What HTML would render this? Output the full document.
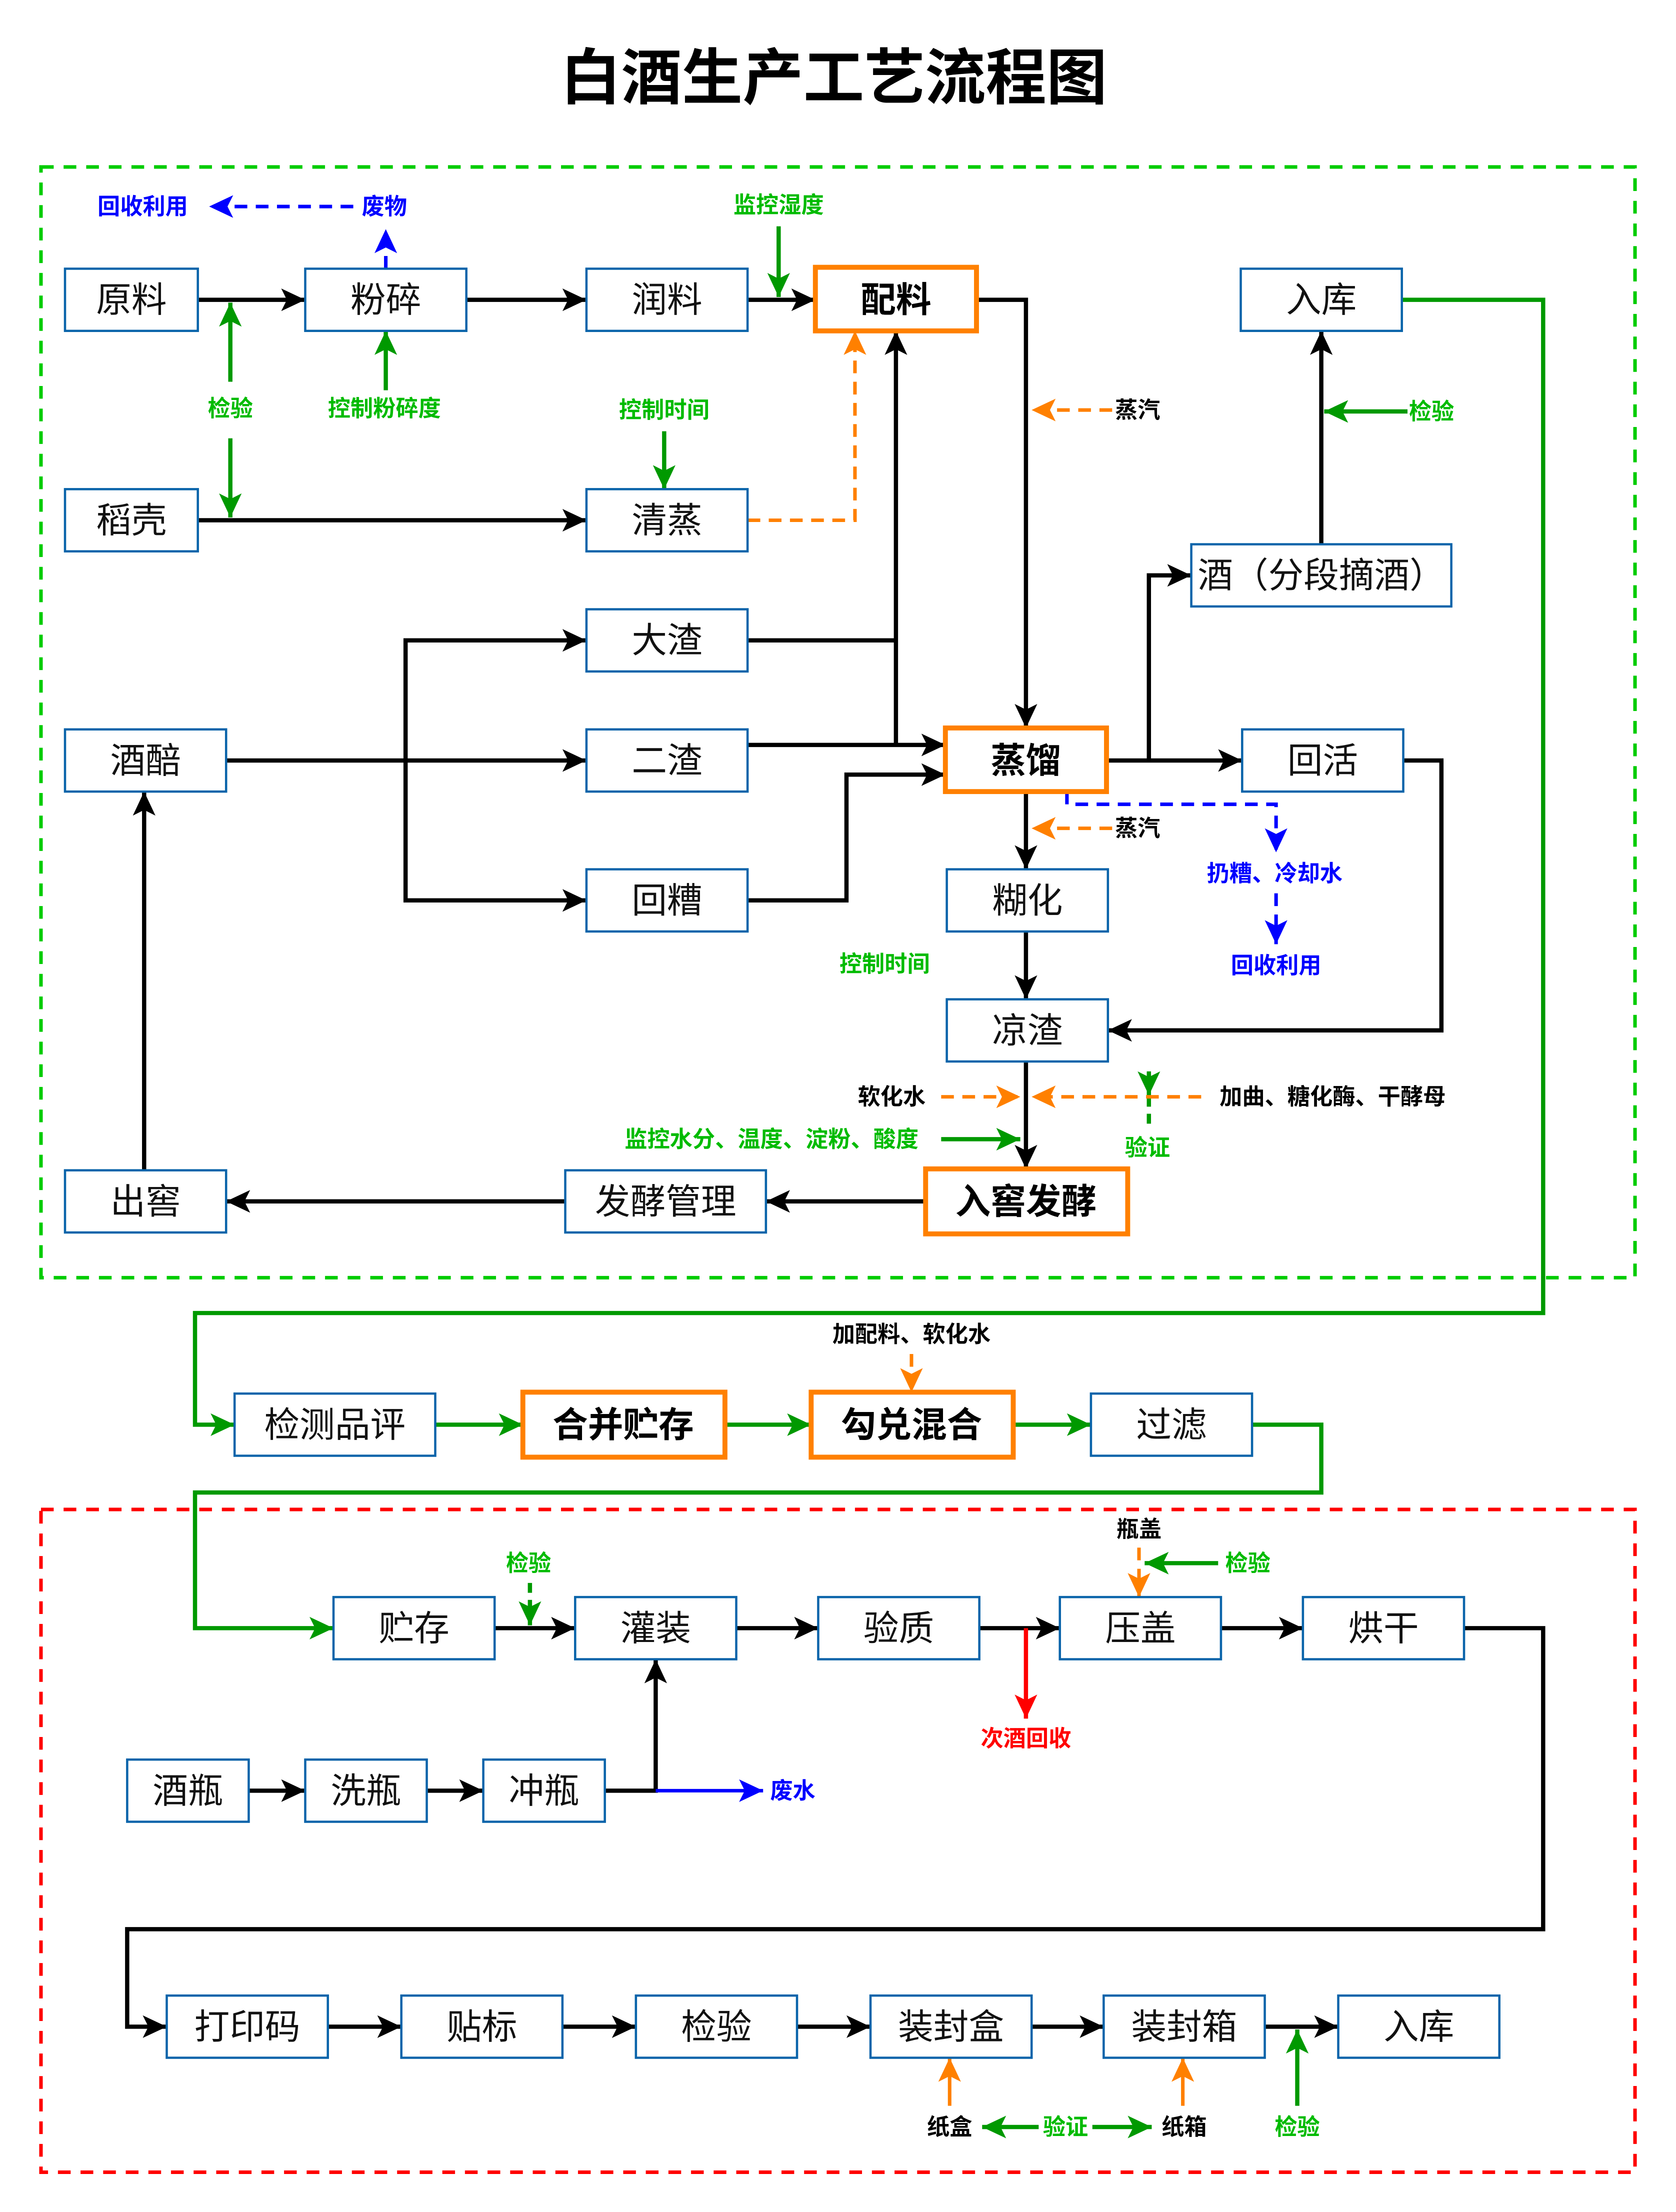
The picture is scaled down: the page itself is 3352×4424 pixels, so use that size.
<!DOCTYPE html>
<html><head><meta charset="utf-8"><style>
html,body{margin:0;padding:0;background:#fff}
svg{display:block}
text{font-family:"Liberation Sans","Noto Sans CJK SC",sans-serif}
.b{font-size:25px;fill:#111;text-anchor:middle;dominant-baseline:central}
.bb{font-size:25px;font-weight:bold;fill:#000;text-anchor:middle;dominant-baseline:central}
.s{font-size:16px;font-weight:bold;text-anchor:middle;dominant-baseline:central}
.box{fill:#fff;stroke:#0a64aa;stroke-width:1.6}
.obox{fill:#fff;stroke:#ff8000;stroke-width:3.5}
.k{fill:none;stroke:#000;stroke-width:3}
.g{fill:none;stroke:#009900;stroke-width:3}
.o{fill:none;stroke:#ff8000;stroke-width:2.5;stroke-dasharray:9,6}
.u{fill:none;stroke:#0000ff;stroke-width:2.5;stroke-dasharray:9,6}
</style></head><body>
<svg width="3352" height="4424" viewBox="0 0 1186 1565" xmlns="http://www.w3.org/2000/svg">
<defs>
<marker id="ak" markerUnits="userSpaceOnUse" markerWidth="18" markerHeight="16" refX="17" refY="8" orient="auto"><path d="M0,0 L17,8 L0,16 L4,8 z" fill="#000"/></marker>
<marker id="ag" markerUnits="userSpaceOnUse" markerWidth="18" markerHeight="16" refX="17" refY="8" orient="auto"><path d="M0,0 L17,8 L0,16 L4,8 z" fill="#009900"/></marker>
<marker id="ao" markerUnits="userSpaceOnUse" markerWidth="18" markerHeight="16" refX="17" refY="8" orient="auto"><path d="M0,0 L17,8 L0,16 L4,8 z" fill="#ff8000"/></marker>
<marker id="au" markerUnits="userSpaceOnUse" markerWidth="18" markerHeight="16" refX="17" refY="8" orient="auto"><path d="M0,0 L17,8 L0,16 L4,8 z" fill="#0000ff"/></marker>
<marker id="ar" markerUnits="userSpaceOnUse" markerWidth="18" markerHeight="16" refX="17" refY="8" orient="auto"><path d="M0,0 L17,8 L0,16 L4,8 z" fill="#ff0000"/></marker>
</defs>
<text x="590" y="55" font-size="43" font-weight="bold" text-anchor="middle" dominant-baseline="central" fill="#000">白酒生产工艺流程图</text>
<rect x="29" y="118" width="1128" height="786" fill="none" stroke="#00cc00" stroke-width="2.5" stroke-dasharray="9,7"/>
<rect x="29" y="1068" width="1128" height="469" fill="none" stroke="#ff0000" stroke-width="2.5" stroke-dasharray="9,7"/>

<path class="k" marker-end="url(#ak)" d="M140,212 H216"/>
<path class="k" marker-end="url(#ak)" d="M330,212 H415"/>
<path class="k" marker-end="url(#ak)" d="M529,212 H577"/>
<path class="k" marker-end="url(#ak)" d="M691,212 H726 V515"/>
<path class="k" marker-end="url(#ak)" d="M140,368 H415"/>
<path class="k" d="M529,453 H634"/>
<path class="k" marker-end="url(#ak)" d="M634,527 V234"/>
<path class="k" marker-end="url(#ak)" d="M529,527 H669"/>
<path class="k" marker-end="url(#ak)" d="M529,637 H599 V548 H669"/>
<path class="k" marker-end="url(#ak)" d="M160,538 H415"/>
<path class="k" marker-end="url(#ak)" d="M287,538 V453 H415"/>
<path class="k" marker-end="url(#ak)" d="M287,538 V637 H415"/>
<path class="k" marker-end="url(#ak)" d="M783,538 H879"/>
<path class="k" marker-end="url(#ak)" d="M813,538 V407 H843"/>
<path class="k" marker-end="url(#ak)" d="M935,385 V234"/>
<path class="k" marker-end="url(#ak)" d="M726,560 V615"/>
<path class="k" marker-end="url(#ak)" d="M726,659 V707"/>
<path class="k" marker-end="url(#ak)" d="M993,538 H1020 V729 H784"/>
<path class="k" marker-end="url(#ak)" d="M726,751 V827"/>
<path class="k" marker-end="url(#ak)" d="M655,850 H542"/>
<path class="k" marker-end="url(#ak)" d="M400,850 H160"/>
<path class="k" marker-end="url(#ak)" d="M102,828 V560"/>
<path class="k" marker-end="url(#ak)" d="M350,1152 H407"/>
<path class="k" marker-end="url(#ak)" d="M521,1152 H579"/>
<path class="k" marker-end="url(#ak)" d="M693,1152 H750"/>
<path class="k" marker-end="url(#ak)" d="M864,1152 H922"/>
<path class="k" marker-end="url(#ak)" d="M1036,1152 H1092 V1365 H90 V1434 H118"/>
<path class="k" marker-end="url(#ak)" d="M176,1267 H216"/>
<path class="k" marker-end="url(#ak)" d="M302,1267 H342"/>
<path class="k" marker-end="url(#ak)" d="M428,1267 H464 V1174"/>
<path class="k" marker-end="url(#ak)" d="M232,1434 H284"/>
<path class="k" marker-end="url(#ak)" d="M398,1434 H450"/>
<path class="k" marker-end="url(#ak)" d="M564,1434 H616"/>
<path class="k" marker-end="url(#ak)" d="M730,1434 H781"/>
<path class="k" marker-end="url(#ak)" d="M895,1434 H947"/>
<path fill="none" stroke="#ff0000" stroke-width="3" marker-end="url(#ar)" d="M726,1152 V1216"/>
<path fill="none" stroke="#0000ff" stroke-width="2.5" marker-end="url(#au)" d="M464,1267 H540"/>

<path class="g" marker-end="url(#ag)" d="M163,270 V214"/>
<path class="g" marker-end="url(#ag)" d="M163,310 V366"/>
<path class="g" marker-end="url(#ag)" d="M273,276 V234"/>
<path class="g" marker-end="url(#ag)" d="M551,160 V210"/>
<path class="g" marker-end="url(#ag)" d="M470,305 V346"/>
<path class="g" marker-end="url(#ag)" d="M996,291 H937"/>
<path class="g" marker-end="url(#ag)" d="M666,806 H722"/>
<path class="g" stroke-width="2" marker-end="url(#ag)" d="M992,212 H1092 V929 H138 V1008 H166"/>
<path class="g" marker-end="url(#ag)" d="M308,1008 H370"/>
<path class="g" marker-end="url(#ag)" d="M513,1008 H574"/>
<path class="g" marker-end="url(#ag)" d="M717,1008 H772"/>
<path class="g" stroke-width="2" marker-end="url(#ag)" d="M886,1008 H935 V1056 H138 V1152 H236"/>
<path class="g" marker-end="url(#ag)" d="M862,1106 H810"/>
<path class="g" marker-end="url(#ag)" d="M918,1490 V1436"/>
<path class="g" marker-end="url(#ag)" d="M735,1505 H695"/>
<path class="g" marker-end="url(#ag)" d="M773,1505 H815"/>
<path class="g" stroke-dasharray="7,5" marker-end="url(#ag)" d="M375,1120 V1150"/>
<path class="g" stroke-dasharray="7,5" d="M813,776 V800"/>
<path class="g" marker-end="url(#ag)" d="M813,758 V775"/>

<path class="o" marker-end="url(#ao)" d="M529,368 H605 V234"/>
<path class="o" marker-end="url(#ao)" d="M787,290 H730"/>
<path class="o" marker-end="url(#ao)" d="M787,586 H730"/>
<path class="o" marker-end="url(#ao)" d="M666,776 H722"/>
<path class="o" marker-end="url(#ao)" d="M850,776 H730"/>
<path class="o" marker-end="url(#ao)" d="M645,958 V985"/>
<path class="o" marker-end="url(#ao)" d="M806,1095 V1130"/>
<path fill="none" stroke="#ff8000" stroke-width="2.5" marker-end="url(#ao)" d="M672,1490 V1456"/>
<path fill="none" stroke="#ff8000" stroke-width="2.5" marker-end="url(#ao)" d="M837,1490 V1456"/>

<path class="u" marker-end="url(#au)" d="M250,146 H148"/>
<path class="u" marker-end="url(#au)" d="M273,190 V162"/>
<path class="u" marker-end="url(#au)" d="M755,560 V569 H903 V603"/>
<path class="u" marker-end="url(#au)" d="M903,632 V668"/>

<rect class="box" x="46" y="190" width="94" height="44"/><text class="b" x="93" y="212">原料</text>
<rect class="box" x="216" y="190" width="114" height="44"/><text class="b" x="273" y="212">粉碎</text>
<rect class="box" x="415" y="190" width="114" height="44"/><text class="b" x="472" y="212">润料</text>
<rect class="obox" x="577" y="189" width="114" height="45"/><text class="bb" x="634" y="212">配料</text>
<rect class="box" x="878" y="190" width="114" height="44"/><text class="b" x="935" y="212">入库</text>
<rect class="box" x="46" y="346" width="94" height="44"/><text class="b" x="93" y="368">稻壳</text>
<rect class="box" x="415" y="346" width="114" height="44"/><text class="b" x="472" y="368">清蒸</text>
<rect class="box" x="843" y="385" width="184" height="44"/><text class="b" x="935" y="407">酒（分段摘酒）</text>
<rect class="box" x="415" y="431" width="114" height="44"/><text class="b" x="472" y="453">大渣</text>
<rect class="box" x="46" y="516" width="114" height="44"/><text class="b" x="103" y="538">酒醅</text>
<rect class="box" x="415" y="516" width="114" height="44"/><text class="b" x="472" y="538">二渣</text>
<rect class="obox" x="669" y="515" width="114" height="45"/><text class="bb" x="726" y="538">蒸馏</text>
<rect class="box" x="879" y="516" width="114" height="44"/><text class="b" x="936" y="538">回活</text>
<rect class="box" x="415" y="615" width="114" height="44"/><text class="b" x="472" y="637">回糟</text>
<rect class="box" x="670" y="615" width="114" height="44"/><text class="b" x="727" y="637">糊化</text>
<rect class="box" x="670" y="707" width="114" height="44"/><text class="b" x="727" y="729">凉渣</text>
<rect class="box" x="46" y="828" width="114" height="44"/><text class="b" x="103" y="850">出窖</text>
<rect class="box" x="400" y="828" width="142" height="44"/><text class="b" x="471" y="850">发酵管理</text>
<rect class="obox" x="655" y="827" width="143" height="46"/><text class="bb" x="726" y="850">入窖发酵</text>
<rect class="box" x="166" y="986" width="142" height="44"/><text class="b" x="237" y="1008">检测品评</text>
<rect class="obox" x="370" y="985" width="143" height="46"/><text class="bb" x="441" y="1008">合并贮存</text>
<rect class="obox" x="574" y="985" width="143" height="46"/><text class="bb" x="645" y="1008">勾兑混合</text>
<rect class="box" x="772" y="986" width="114" height="44"/><text class="b" x="829" y="1008">过滤</text>
<rect class="box" x="236" y="1130" width="114" height="44"/><text class="b" x="293" y="1152">贮存</text>
<rect class="box" x="407" y="1130" width="114" height="44"/><text class="b" x="464" y="1152">灌装</text>
<rect class="box" x="579" y="1130" width="114" height="44"/><text class="b" x="636" y="1152">验质</text>
<rect class="box" x="750" y="1130" width="114" height="44"/><text class="b" x="807" y="1152">压盖</text>
<rect class="box" x="922" y="1130" width="114" height="44"/><text class="b" x="979" y="1152">烘干</text>
<rect class="box" x="90" y="1245" width="86" height="44"/><text class="b" x="133" y="1267">酒瓶</text>
<rect class="box" x="216" y="1245" width="86" height="44"/><text class="b" x="259" y="1267">洗瓶</text>
<rect class="box" x="342" y="1245" width="86" height="44"/><text class="b" x="385" y="1267">冲瓶</text>
<rect class="box" x="118" y="1412" width="114" height="44"/><text class="b" x="175" y="1434">打印码</text>
<rect class="box" x="284" y="1412" width="114" height="44"/><text class="b" x="341" y="1434">贴标</text>
<rect class="box" x="450" y="1412" width="114" height="44"/><text class="b" x="507" y="1434">检验</text>
<rect class="box" x="616" y="1412" width="114" height="44"/><text class="b" x="673" y="1434">装封盒</text>
<rect class="box" x="781" y="1412" width="114" height="44"/><text class="b" x="838" y="1434">装封箱</text>
<rect class="box" x="947" y="1412" width="114" height="44"/><text class="b" x="1004" y="1434">入库</text>

<text class="s" fill="#0000ff" x="101" y="146">回收利用</text>
<text class="s" fill="#0000ff" x="272" y="146">废物</text>
<text class="s" fill="#0000ff" x="902" y="618">扔糟、冷却水</text>
<text class="s" fill="#0000ff" x="903" y="683">回收利用</text>
<text class="s" fill="#0000ff" x="561" y="1267">废水</text>
<text class="s" fill="#00bb00" x="551" y="145">监控湿度</text>
<text class="s" fill="#00bb00" x="163" y="289">检验</text>
<text class="s" fill="#00bb00" x="272" y="289">控制粉碎度</text>
<text class="s" fill="#00bb00" x="470" y="290">控制时间</text>
<text class="s" fill="#00bb00" x="1013" y="291">检验</text>
<text class="s" fill="#00bb00" x="626" y="682">控制时间</text>
<text class="s" fill="#00bb00" x="546" y="806">监控水分、温度、淀粉、酸度</text>
<text class="s" fill="#00bb00" x="812" y="812">验证</text>
<text class="s" fill="#00bb00" x="374" y="1106">检验</text>
<text class="s" fill="#00bb00" x="883" y="1106">检验</text>
<text class="s" fill="#00bb00" x="754" y="1505">验证</text>
<text class="s" fill="#00bb00" x="918" y="1505">检验</text>
<text class="s" fill="#000" x="805" y="290">蒸汽</text>
<text class="s" fill="#000" x="805" y="586">蒸汽</text>
<text class="s" fill="#000" x="631" y="776">软化水</text>
<text class="s" fill="#000" x="943" y="776">加曲、糖化酶、干酵母</text>
<text class="s" fill="#000" x="645" y="944">加配料、软化水</text>
<text class="s" fill="#000" x="806" y="1082">瓶盖</text>
<text class="s" fill="#000" x="672" y="1505">纸盒</text>
<text class="s" fill="#000" x="838" y="1505">纸箱</text>
<text class="s" fill="#ff0000" x="726" y="1230">次酒回收</text>
</svg>
</body></html>
